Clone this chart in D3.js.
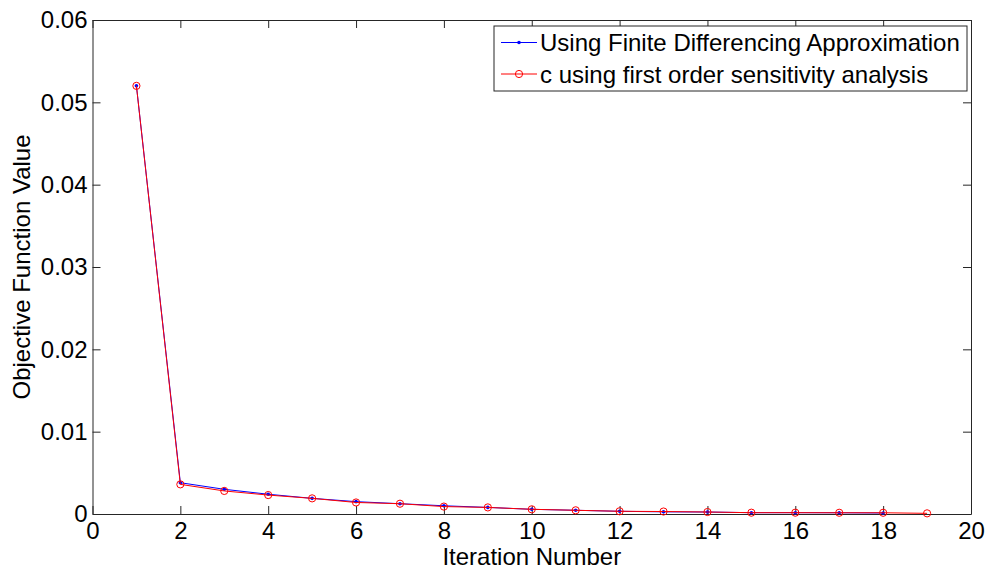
<!DOCTYPE html>
<html>
<head>
<meta charset="utf-8">
<script src="https://cdn.jsdelivr.net/npm/d3@7"></script>
<style>
body { margin: 0; background: #fff; }
text { font-family: "Liberation Sans", Arial, sans-serif; }
</style>
</head>
<body>
<div id="chart"></div>
<script>
var width = 990;
var height = 569;

// data
var iterFD = [1, 2, 3, 4, 5, 6, 7, 8, 9, 10, 11, 12, 13, 14, 15, 16, 17, 18];
var valuesFD = [0.0520, 0.0038, 0.0030, 0.0024, 0.0019, 0.0015, 0.00125, 0.0010, 0.0008, 0.00057, 0.00045, 0.00033, 0.00026, 0.00024, 0.00016, 0.00016, 0.00015, 0.00012];
var iterSens = [1, 2, 3, 4, 5, 6, 7, 8, 9, 10, 11, 12, 13, 14, 15, 16, 17, 18, 19];
var valuesSens = [0.0520, 0.0036, 0.0028, 0.0023, 0.0019, 0.0014, 0.00125, 0.0009, 0.0008, 0.00057, 0.00045, 0.00033, 0.0003, 0.00024, 0.00016, 0.00016, 0.00015, 0.00015, 0.00008];
var xTicks = [0, 2, 4, 6, 8, 10, 12, 14, 16, 18, 20];
var yTicks = [0, 0.01, 0.02, 0.03, 0.04, 0.05, 0.06];
var legendLabels = ["Using Finite Differencing Approximation", "c using first order sensitivity analysis"];

var margin = {left: 92.5, right: 19, top: 20, bottom: 55};
var plotW = width - margin.left - margin.right;
var plotH = height - margin.top - margin.bottom;
var fontSize = 24;

var svg = d3.select("#chart").
append("svg").
attr("width", width).
attr("height", height);

var x = d3.scaleLinear().domain([0, 20]).range([margin.left, margin.left + plotW]);
var y = d3.scaleLinear().domain([0, 0.06]).range([margin.top + plotH, margin.top]);

var fmtY = function (d) {return d === 0 ? "0" : d3.format(".2f")(d);};

// box with inward ticks on all four sides
svg.append("g").
attr("transform", "translate(0," + (margin.top + plotH) + ")").
call(d3.axisBottom(x).tickValues(xTicks).tickSizeInner(-8).tickSizeOuter(0).tickPadding(8)).
call(function (g) {
    g.select(".domain").attr("stroke", "#262626");
    g.selectAll(".tick line").attr("stroke", "#262626");
    g.selectAll("text").attr("font-size", fontSize).attr("fill", "#000");
});

svg.append("g").
attr("transform", "translate(0," + margin.top + ")").
call(d3.axisTop(x).tickValues(xTicks).tickSizeInner(-8).tickSizeOuter(0).tickFormat("")).
call(function (g) {
    g.select(".domain").attr("stroke", "#262626");
    g.selectAll(".tick line").attr("stroke", "#262626");
});

svg.append("g").
attr("transform", "translate(" + margin.left + ",0)").
call(d3.axisLeft(y).tickValues(yTicks).tickSizeInner(-8).tickSizeOuter(0).tickPadding(5).tickFormat(fmtY)).
call(function (g) {
    g.select(".domain").attr("stroke", "#262626");
    g.selectAll(".tick line").attr("stroke", "#262626");
    g.selectAll("text").attr("font-size", fontSize).attr("fill", "#000");
});

svg.append("g").
attr("transform", "translate(" + (margin.left + plotW) + ",0)").
call(d3.axisRight(y).tickValues(yTicks).tickSizeInner(-8).tickSizeOuter(0).tickFormat("")).
call(function (g) {
    g.select(".domain").attr("stroke", "#262626");
    g.selectAll(".tick line").attr("stroke", "#262626");
});

// axis labels
svg.append("text").
attr("x", x(10)).
attr("y", 565).
attr("text-anchor", "middle").
attr("font-size", fontSize).
text("Iteration Number");

svg.append("text").
attr("transform", "translate(30," + y(0.03) + ") rotate(-90)").
attr("text-anchor", "middle").
attr("font-size", fontSize).
text("Objective Function Value");

var line = d3.line().
x(function (d) {return x(d[0]);}).
y(function (d) {return y(d[1]);});

var fdData = iterFD.map(function (d, i) {return [d, valuesFD[i]];});
var sensData = iterSens.map(function (d, i) {return [d, valuesSens[i]];});

svg.append("path").
datum(fdData).
attr("d", line).
attr("fill", "none").
attr("stroke", "#0000ff").
attr("stroke-width", 1);

svg.selectAll(".dot").
data(fdData).
enter().
append("circle").
attr("class", "dot").
attr("cx", function (d) {return x(d[0]);}).
attr("cy", function (d) {return y(d[1]);}).
attr("r", 1.8).
attr("fill", "#0000ff");

svg.append("path").
datum(sensData).
attr("d", line).
attr("fill", "none").
attr("stroke", "#ff0000").
attr("stroke-width", 1);

svg.selectAll(".ring").
data(sensData).
enter().
append("circle").
attr("class", "ring").
attr("cx", function (d) {return x(d[0]);}).
attr("cy", function (d) {return y(d[1]);}).
attr("r", 3.6).
attr("fill", "none").
attr("stroke", "#ff0000").
attr("stroke-width", 1);

// legend
var legend = svg.append("g").attr("transform", "translate(494,26)");

legend.append("rect").
attr("width", 473).
attr("height", 65).
attr("fill", "#fff").
attr("stroke", "#262626").
attr("stroke-width", 1);

var item = legend.selectAll(".item").
data(legendLabels).
enter().
append("g").
attr("class", "item").
attr("transform", function (d, i) {return "translate(0," + (16.5 + i * 31.5) + ")";});

item.append("line").
attr("x1", 7).
attr("x2", 43).
attr("stroke", function (d, i) {return i === 0 ? "#0000ff" : "#ff0000";}).
attr("stroke-width", 1);

item.filter(function (d, i) {return i === 0;}).
append("circle").
attr("cx", 25).
attr("r", 1.8).
attr("fill", "#0000ff");

item.filter(function (d, i) {return i === 1;}).
append("circle").
attr("cx", 25).
attr("r", 3.6).
attr("fill", "none").
attr("stroke", "#ff0000");

item.append("text").
attr("x", 46).
attr("y", 8.5).
attr("font-size", fontSize).
text(function (d) {return d;});
</script>
</body>
</html>
